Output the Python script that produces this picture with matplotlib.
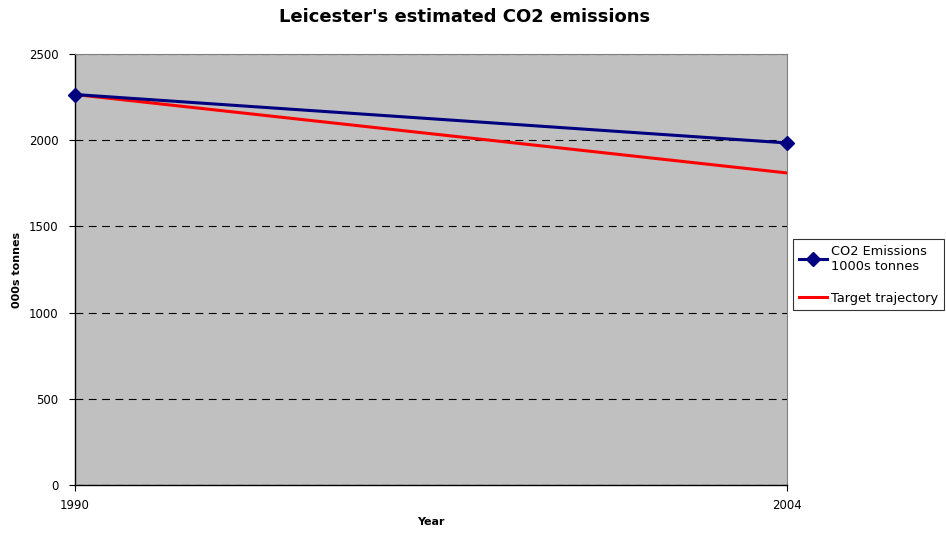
import matplotlib
matplotlib.use("Agg")
import matplotlib.pyplot as plt

years = [1990, 2004]
co2_emissions = [2265, 1984]
target_trajectory = [2265, 1810]
y_ticks = [0, 500, 1000, 1500, 2000, 2500]

plt.rcParams["font.family"] = ["DejaVu Sans"]

fig = plt.figure(figsize=(9.46, 5.41), dpi=100)
ax = fig.add_axes([0.0793, 0.1035, 0.7527, 0.7967])
ax.set_facecolor("#c0c0c0")

ax.plot(years, target_trajectory, color="#ff0000", lw=2.2, label="Target trajectory", zorder=3)
ax.plot(years, co2_emissions, color="#000080", lw=2.2, marker="D", markersize=7,
        label="CO2 Emissions\n1000s tonnes", zorder=4, clip_on=False)

ax.set_xlim(1990, 2004)
ax.set_ylim(0, 2500)
ax.set_xticks(years)
ax.set_yticks(y_ticks)
ax.tick_params(axis="both", labelsize=8.5, direction="out", length=4, color="black")
ax.tick_params(axis="x", pad=6)
ax.tick_params(axis="y", pad=8)
ax.grid(axis="y", color="black", linestyle=(0, (7, 5)), lw=0.8)
ax.set_axisbelow(True)

for side in ["top", "right"]:
    ax.spines[side].set_color("#808080")
    ax.spines[side].set_linewidth(0.8)
for side in ["left", "bottom"]:
    ax.spines[side].set_color("black")
    ax.spines[side].set_linewidth(1.0)

fig.text(465 / 946, 1 - 17 / 541, "Leicester's estimated CO2 emissions",
         fontsize=13, fontweight="bold", ha="center", va="center")
ax.set_xlabel("Year", fontsize=8, fontweight="bold", labelpad=4)
ax.set_ylabel("000s tonnes", fontsize=8, fontweight="bold", labelpad=5)

handles, labels = ax.get_legend_handles_labels()
leg = fig.legend(handles[::-1], labels[::-1], loc="upper left",
                 bbox_to_anchor=(793 / 946, 1 - 239 / 541), fontsize=9.3,
                 frameon=True, fancybox=False, edgecolor="black",
                 handlelength=2.2, handletextpad=0.3, borderpad=0.45,
                 labelspacing=1.45, borderaxespad=0)
leg.get_frame().set_linewidth(0.8)

fig.savefig("out.png", dpi=100)
